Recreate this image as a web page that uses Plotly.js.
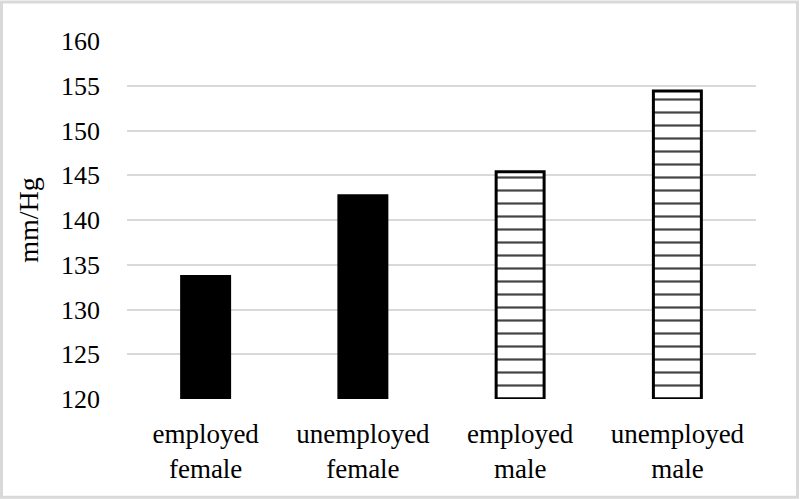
<!DOCTYPE html>
<html>
<head>
<meta charset="utf-8">
<script src="https://cdn.plot.ly/plotly-3.0.1.min.js"></script>
<style>html,body{margin:0;padding:0;background:#fff;}#chart{width:800px;height:500px;}</style>
</head>
<body>
<div id="chart"></div>
<script>
var categories = ["employed<br>female", "unemployed<br>female", "employed<br>male", "unemployed<br>male"];
var values = [133.7, 142.7, 145.4, 154.4];
var fillColors = ["#000000", "#000000", "#ffffff", "#ffffff"];
var patternShapes = ["", "", "-", "-"];
var yTicks = [120, 125, 130, 135, 140, 145, 150, 155, 160];

var FONT = "Liberation Serif, Times New Roman, serif";

var trace = {
  type: "bar",
  x: categories,
  y: values.map(function (v) { return v - 120; }),
  base: 120,
  marker: {
    color: fillColors,
    line: { color: "#000000", width: 3 },
    pattern: {
      shape: patternShapes,
      size: 13,
      solidity: 0.17,
      fgcolor: "#000000",
      fgopacity: 1,
      fillmode: "overlay"
    }
  },
  hoverinfo: "skip"
};

var plotL = 127, plotR = 756, plotT = 40.5, plotB = 398.7;
var W = plotR - plotL, H = plotB - plotT;
function px(x) { return (x - plotL) / W; }
function py(y) { return (plotB - y) / H; }

var layout = {
  width: 800,
  height: 500,
  margin: { l: plotL, r: 800 - plotR, t: plotT, b: 500 - plotB },
  paper_bgcolor: "#ffffff",
  plot_bgcolor: "#ffffff",
  showlegend: false,
  bargap: 0.695,
  font: { family: FONT, size: 26, color: "#000000" },
  xaxis: {
    type: "category",
    showgrid: false,
    showline: false,
    zeroline: false,
    ticks: "",
    ticklabelstandoff: 16,
    tickfont: { family: FONT, size: 27, color: "#000000" }
  },
  yaxis: {
    range: [120, 160],
    tickvals: yTicks,
    ticktext: yTicks.map(String),
    showgrid: true,
    gridcolor: "#d9d9d9",
    gridwidth: 2,
    showline: false,
    zeroline: false,
    ticks: "",
    ticklabelstandoff: 26,
    tickfont: { family: FONT, size: 26, color: "#000000" },
    title: { text: "mm/Hg", font: { family: FONT, size: 28, color: "#000000" }, standoff: 14 }
  },
  shapes: [{
    type: "rect",
    xref: "paper", yref: "paper",
    x0: px(1.5), x1: px(797.5),
    y0: py(497), y1: py(1.5),
    line: { color: "#d9d9d9", width: 3 },
    fillcolor: "rgba(0,0,0,0)",
    layer: "below"
  }]
};

Plotly.newPlot("chart", [trace], layout, { displayModeBar: false, staticPlot: true });
</script>
</body>
</html>
